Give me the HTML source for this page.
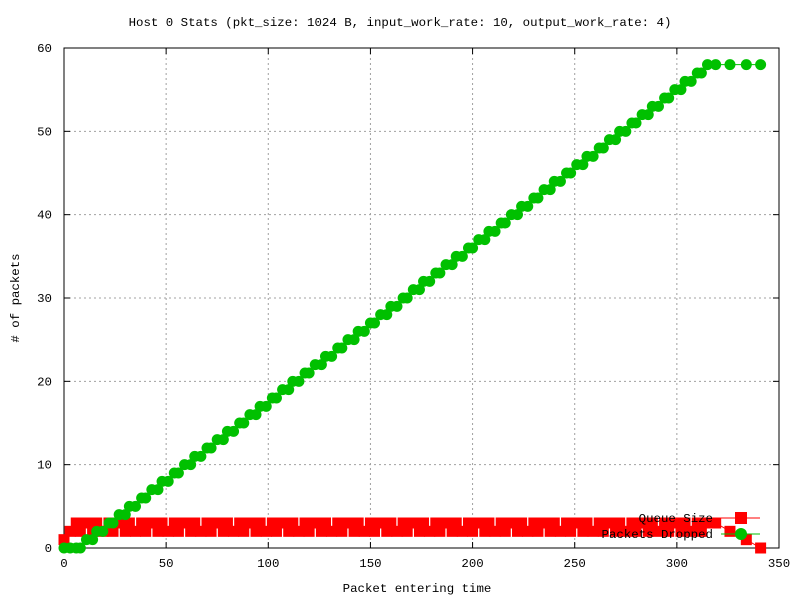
<!DOCTYPE html>
<html><head><meta charset="utf-8"><style>
body{margin:0;background:#fff}
svg text{font-family:"Liberation Mono","DejaVu Sans Mono",monospace;font-size:12.4px;fill:#000}
</style></head><body>
<svg id="c" width="800" height="600"></svg>
<script>
const xTicks=[0,50,100,150,200,250,300,350];
const yTicks=[0,10,20,30,40,50,60];
const times=[0,3,6,8,11,14,16,19,22,24,27,30,32,35,38,40,43,46,48,51,54,56,59,62,64,67,70,72,75,78,80,83,86,88,91,94,96,99,102,104,107,110,112,115,118,120,123,126,128,131,134,136,139,142,144,147,150,152,155,158,160,163,166,168,171,174,176,179,182,184,187,190,192,195,198,200,203,206,208,211,214,216,219,222,224,227,230,232,235,238,240,243,246,248,251,254,256,259,262,264,267,270,272,275,278,280,283,286,288,291,294,296,299,302,304,307,310,312,315,319,326,334,341];
const queueSize=[1,2,3,2,3,2,3,2,3,2,3,2,3,2,3,2,3,2,3,2,3,2,3,2,3,2,3,2,3,2,3,2,3,2,3,2,3,2,3,2,3,2,3,2,3,2,3,2,3,2,3,2,3,2,3,2,3,2,3,2,3,2,3,2,3,2,3,2,3,2,3,2,3,2,3,2,3,2,3,2,3,2,3,2,3,2,3,2,3,2,3,2,3,2,3,2,3,2,3,2,3,2,3,2,3,2,3,2,3,2,3,2,3,2,3,2,3,2,3,3,2,1,0];
const dropped=[0,0,0,0,1,1,2,2,3,3,4,4,5,5,6,6,7,7,8,8,9,9,10,10,11,11,12,12,13,13,14,14,15,15,16,16,17,17,18,18,19,19,20,20,21,21,22,22,23,23,24,24,25,25,26,26,27,27,28,28,29,29,30,30,31,31,32,32,33,33,34,34,35,35,36,36,37,37,38,38,39,39,40,40,41,41,42,42,43,43,44,44,45,45,46,46,47,47,48,48,49,49,50,50,51,51,52,52,53,53,54,54,55,55,56,56,57,57,58,58,58,58,58];
const NS="http://www.w3.org/2000/svg",svg=document.getElementById('c');
const L=64,R=779,T=48,B=548;
const X=v=>L+(v-0)/350*(R-L), Y=v=>B-v/60*(B-T);
function mk(t,a,p){const e=document.createElementNS(NS,t);for(const k in a)e.setAttribute(k,a[k]);(p||svg).appendChild(e);return e;}
const grid=mk('g',{});


xTicks.forEach(v=>{
 if(v>0&&v<350){mk('line',{x1:X(v),x2:X(v),y1:T,y2:B,stroke:'#a0a0a0','stroke-dasharray':'2,3'},grid);}
 mk('line',{x1:X(v),x2:X(v),y1:B,y2:B-6,stroke:'#000'});mk('line',{x1:X(v),x2:X(v),y1:T,y2:T+6,stroke:'#000'});
 const t=mk('text',{x:X(v),y:567,'text-anchor':'middle'});t.textContent=v;
 
 
});
yTicks.forEach(v=>{
 if(v>0&&v<60){mk('line',{x1:L,x2:R,y1:Y(v),y2:Y(v),stroke:'#a0a0a0','stroke-dasharray':'2,3'},grid);}
 mk('line',{x1:L,x2:L+6,y1:Y(v),y2:Y(v),stroke:'#000'});mk('line',{x1:R,x2:R-6,y1:Y(v),y2:Y(v),stroke:'#000'});
 const t=mk('text',{x:52,y:Y(v)+4,'text-anchor':'end'});t.textContent=v;
 
 
});
const fr=mk('rect',{x:L,y:T,width:R-L,height:B-T,fill:'none',stroke:'#000'});


const tt=mk('text',{x:400,y:26,'text-anchor':'middle'});tt.textContent='Host 0 Stats (pkt_size: 1024 B, input_work_rate: 10, output_work_rate: 4)';


const xl=mk('text',{x:417,y:592,'text-anchor':'middle'});xl.textContent='Packet entering time';


const yl=mk('text',{x:0,y:0,'text-anchor':'middle',transform:'translate(19,298) rotate(-90)'});yl.textContent='# of packets';


const qg=mk('g',{});


mk('polyline',{points:times.map((t,i)=>X(t)+','+Y(queueSize[i])).join(' '),fill:'none',stroke:'#ff0000'},qg);
times.forEach((t,i)=>{const r=mk('rect',{x:X(t)-5.5,y:Y(queueSize[i])-5.5,width:11,height:11,fill:'#ff0000'},qg);
 
 });
const dg=mk('g',{});


mk('polyline',{points:times.map((t,i)=>X(t)+','+Y(dropped[i])).join(' '),fill:'none',stroke:'#00c000'},dg);
times.forEach((t,i)=>{const c=mk('circle',{cx:X(t),cy:Y(dropped[i]),r:5.5,fill:'#00c000'},dg);
 
 });
const lg=mk('g',{});


const l1=mk('text',{x:713,y:522,'text-anchor':'end'},lg);l1.textContent='Queue Size';
mk('line',{x1:721,x2:760,y1:518,y2:518,stroke:'#ff0000'},lg);
mk('rect',{x:735,y:512,width:12,height:12,fill:'#ff0000'},lg);
const l2=mk('text',{x:713,y:538,'text-anchor':'end'},lg);l2.textContent='Packets Dropped';
mk('line',{x1:721,x2:760,y1:534,y2:534,stroke:'#00c000'},lg);
mk('circle',{cx:741,cy:534,r:6,fill:'#00c000'},lg);
</script>
</body></html>
